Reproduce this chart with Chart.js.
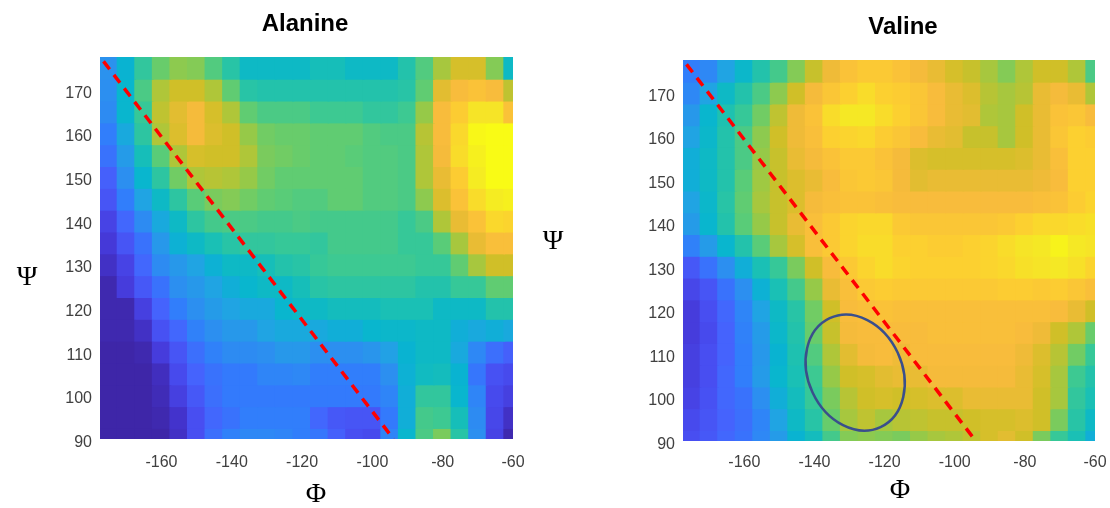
<!DOCTYPE html>
<html>
<head>
<meta charset="utf-8">
<script src="https://cdn.jsdelivr.net/npm/chart.js@4.4.1/dist/chart.umd.min.js"></script>
<style>
  html, body { margin: 0; padding: 0; background: #fff; overflow: hidden; }
  #wrap { position: relative; width: 1110px; height: 508px; }
  canvas { position: absolute; top: 0; }
  #left { left: 0; }
  #right { left: 540px; }
</style>
</head>
<body>
<div id="wrap">
  <canvas id="left" width="540" height="508"></canvas>
  <canvas id="right" width="582" height="508"></canvas>
</div>
<script>
// cell centres (degrees)
const phi = [-175, -170, -165, -160, -155, -150, -145, -140, -135, -130, -125, -120,
             -115, -110, -105, -100, -95, -90, -85, -80, -75, -70, -65, -60];
const psi = [175, 170, 165, 160, 155, 150, 145, 140, 135, 130, 125, 120, 115, 110, 105, 100, 95, 90];

// relative population, 0..100, one row per psi (top to bottom)
const alanine = [
  [32,44,56,64,68,67,61,54,47,47,47,47,50,50,47,47,47,53,61,71,77,77,67,47],
  [31,45,60,72,76,76,72,63,54,53,53,53,53,53,53,53,53,54,63,79,83,85,83,74],
  [30,45,57,74,79,82,77,72,63,60,60,60,58,58,58,56,56,58,69,83,88,94,94,85],
  [26,40,55,72,78,82,78,76,69,65,64,64,63,63,63,61,60,60,73,83,91,99,100,100],
  [23,35,50,62,72,77,76,76,72,66,65,64,63,63,62,61,61,60,72,82,92,97,100,100],
  [18,31,45,55,65,72,73,72,69,65,63,63,63,63,63,61,61,60,72,80,88,96,100,100],
  [15,26,38,47,55,62,66,67,65,63,62,61,61,63,63,61,61,60,68,78,85,92,96,97],
  [10,20,30,40,47,55,59,60,60,59,59,60,59,59,59,59,59,57,60,72,80,85,91,90],
  [7,15,23,34,43,47,51,54,56,56,57,57,56,59,59,59,59,57,57,62,71,80,84,84],
  [4,10,20,30,34,38,43,47,47,50,53,54,57,58,58,58,58,58,57,57,63,71,76,76],
  [1,8,16,23,31,34,38,42,45,47,47,50,54,55,55,55,55,55,53,53,57,57,63,63],
  [1,1,9,19,26,31,35,38,40,40,45,47,47,49,49,49,51,51,51,47,47,47,53,53],
  [1,1,4,14,20,27,31,34,34,38,40,40,40,42,42,45,46,46,47,47,42,40,42,40],
  [0,0,1,8,15,22,27,30,30,31,34,34,31,31,31,33,37,44,47,47,40,29,22,18],
  [0,0,0,3,12,19,23,25,25,28,28,29,26,26,26,26,31,43,48,49,44,24,14,12],
  [0,0,0,2,9,16,22,25,25,25,25,25,25,25,25,25,28,42,56,56,45,28,12,9],
  [0,0,0,1,5,13,20,23,26,26,26,26,20,16,15,15,25,42,59,58,50,30,11,4],
  [0,0,0,0,4,13,22,27,29,29,28,26,24,18,13,12,28,45,60,66,54,31,10,1]
];

const valine = [
  [26,29,38,46,53,59,67,75,81,85,87,87,85,82,80,77,75,71,67,72,76,76,72,60],
  [29,38,47,53,60,68,76,82,86,89,92,89,88,86,83,80,78,73,71,73,80,82,80,72],
  [34,45,52,57,65,74,81,85,92,95,95,92,89,86,83,80,79,72,71,76,80,85,86,83],
  [38,46,53,60,68,76,81,84,89,90,91,88,86,83,80,79,75,75,71,76,80,86,89,88],
  [42,47,53,60,69,75,80,82,85,87,87,85,82,78,77,77,77,77,77,78,80,84,89,89],
  [42,47,53,62,70,75,78,80,83,86,87,86,82,79,80,80,80,80,80,80,81,83,89,89],
  [38,46,54,63,71,75,78,82,84,85,85,84,83,83,83,83,83,83,83,83,84,85,88,90],
  [35,45,53,62,69,75,80,84,87,90,91,91,87,86,86,86,86,86,87,89,91,91,92,93],
  [27,35,45,53,62,71,77,84,87,90,92,92,89,89,88,88,89,90,92,94,95,98,95,94],
  [16,23,31,42,51,57,66,76,83,87,90,92,90,89,89,89,89,90,91,93,94,95,93,90],
  [11,15,23,31,43,51,59,69,80,84,87,88,87,87,87,87,87,87,88,88,87,88,86,84],
  [8,13,20,28,38,47,54,65,76,83,84,85,84,84,84,84,84,84,84,84,84,83,80,76],
  [8,12,19,27,35,46,53,64,75,82,83,83,83,83,84,84,84,84,84,83,81,76,72,64],
  [9,13,19,26,34,44,52,61,72,79,82,83,81,83,83,83,83,83,83,81,78,73,65,57],
  [9,13,20,26,35,45,51,58,69,76,77,79,80,80,82,82,82,82,82,80,77,71,58,53],
  [10,14,20,23,31,42,49,57,66,73,76,77,76,77,78,78,80,80,80,80,76,71,56,51],
  [12,15,19,22,28,38,47,54,64,71,74,71,73,74,75,75,76,77,77,78,76,66,54,47],
  [13,16,20,23,29,35,44,49,59,67,68,67,66,69,71,72,74,77,79,76,66,57,51,42]
];

const phiTicks = [-160, -140, -120, -100, -80, -60];
const psiTicks = [90, 100, 110, 120, 130, 140, 150, 160, 170];

// dashed diagonal, both panels
const diagPhi = [-176.5, -94];
const diagPsi = [176.5, 90];

// ring on the valine panel
const ringCenter = [-128.4, 105.7];
const ringRadii = [13.4, 13.8];
const ringTilt = -25;

// parula, every 4th entry of the 64-colour table
const parulaStops = [
  [0.2422, 0.1504, 0.6603], [0.2706, 0.2147, 0.8364], [0.2813, 0.3006, 0.9414],
  [0.2699, 0.3892, 0.9906], [0.1963, 0.4847, 0.9892], [0.1687, 0.5703, 0.9359],
  [0.1248, 0.6459, 0.8883], [0.0297, 0.7082, 0.8163], [0.0964, 0.7500, 0.7120],
  [0.2161, 0.7843, 0.5923], [0.3909, 0.8029, 0.4354], [0.6174, 0.7876, 0.2612],
  [0.8203, 0.7498, 0.1535], [0.9728, 0.7298, 0.2394], [0.9892, 0.8136, 0.1885],
  [0.9597, 0.9135, 0.1423], [0.9769, 0.9839, 0.0805]
];
const stopPos = [0, 4, 8, 12, 16, 20, 24, 28, 32, 36, 40, 44, 48, 52, 56, 60, 63];

function parula(v) {
  const x = Math.min(Math.max(v / 100, 0), 1) * 63;
  let k = 0;
  while (k < stopPos.length - 2 && x > stopPos[k + 1]) k++;
  const f = (x - stopPos[k]) / (stopPos[k + 1] - stopPos[k]);
  const a = parulaStops[k], b = parulaStops[k + 1];
  const c = a.map((ai, i) => Math.round(255 * (ai + (b[i] - ai) * f)));
  return `rgb(${c[0]},${c[1]},${c[2]})`;
}

const sideText = {
  id: 'sideText',
  afterDraw(chart, args, opts) {
    const ctx = chart.ctx;
    ctx.save();
    ctx.textAlign = 'center';
    ctx.textBaseline = 'middle';
    ctx.fillStyle = '#000';
    for (const t of opts.items || []) {
      ctx.font = t.font;
      ctx.fillText(t.text, t.x, t.y);
    }
    ctx.restore();
  }
};

const ring = {
  id: 'ring',
  afterDatasetsDraw(chart, args, opts) {
    if (!opts.center) return;
    const xs = chart.scales.x, ys = chart.scales.y;
    const cx = xs.getPixelForValue(opts.center[0]);
    const cy = ys.getPixelForValue(opts.center[1]);
    const rx = Math.abs(xs.getPixelForValue(opts.center[0] + opts.radii[0]) - cx);
    const ry = Math.abs(ys.getPixelForValue(opts.center[1] + opts.radii[1]) - cy);
    const ctx = chart.ctx;
    ctx.save();
    ctx.beginPath();
    ctx.ellipse(cx, cy, rx, ry, opts.tilt * Math.PI / 180, 0, 2 * Math.PI);
    ctx.strokeStyle = '#3a4f8c';
    ctx.lineWidth = 2.5;
    ctx.stroke();
    ctx.restore();
  }
};

const tickFont = {family: "'Liberation Sans', Arial, sans-serif", size: 16};
const serif = "28px 'Liberation Serif', 'DejaVu Serif', serif";
const bold = "bold 24px 'Liberation Sans', Arial, sans-serif";

function cellDatasets(grid) {
  return grid.map((row, r) => ({
    type: 'bar',
    data: row.map((v, c) => ({x: phi[c], y: [psi[r] - 2.7, psi[r] + 2.7]})),
    backgroundColor: row.map(parula),
    grouped: false,
    barPercentage: 1.1,
    categoryPercentage: 1,
    borderWidth: 0,
    clip: 0,
    order: 2
  }));
}

function drawPanel(id, grid, layout) {
  const datasets = cellDatasets(grid);
  datasets.push({
    type: 'line',
    data: diagPhi.map((x, i) => ({x, y: diagPsi[i]})),
    borderColor: '#ff0000',
    borderWidth: 3.5,
    borderDash: [10, 7],
    pointRadius: 0,
    fill: false,
    clip: 0,
    order: 0
  });

  return new Chart(document.getElementById(id), {
    type: 'bar',
    data: {datasets},
    plugins: [sideText, ring],
    options: {
      responsive: false,
      animation: false,
      devicePixelRatio: 1,
      events: [],
      layout: {padding: {left: 0, right: layout.right, top: layout.top, bottom: 0}},
      plugins: {
        legend: {display: false},
        tooltip: {enabled: false},
        sideText: {items: layout.texts},
        ring: layout.ring || {}
      },
      scales: {
        x: {
          type: 'linear', min: -177.5, max: -60, offset: false,
          grid: {display: false, drawTicks: false},
          border: {display: false},
          ticks: {color: '#404040', font: tickFont, padding: layout.xPad, maxRotation: 0, autoSkip: false,
                  callback: v => String(v)},
          afterBuildTicks: s => { s.ticks = phiTicks.map(v => ({value: v})); },
          afterFit: s => { s.height = layout.xAxisH; }
        },
        y: {
          type: 'linear', min: 90, max: 177.5,
          grid: {display: false, drawTicks: false},
          border: {display: false},
          ticks: {color: '#404040', font: tickFont, padding: 8, labelOffset: 3.5, autoSkip: false,
                  callback: v => String(v)},
          afterBuildTicks: s => { s.ticks = psiTicks.map(v => ({value: v})); },
          afterFit: s => { s.width = layout.yAxisW; }
        }
      }
    }
  });
}

drawPanel('left', alanine, {
  right: 27, top: 57, xAxisH: 69, yAxisW: 100, xPad: 14,
  texts: [
    {text: 'Alanine', x: 305, y: 24, font: bold},
    {text: 'Ψ', x: 27, y: 278, font: serif},
    {text: 'Φ', x: 316, y: 495, font: serif}
  ]
});

drawPanel('right', valine, {
  right: 27, top: 60, xAxisH: 67, yAxisW: 143, xPad: 12,
  texts: [
    {text: 'Valine', x: 363, y: 27, font: bold},
    {text: 'Ψ', x: 13, y: 242, font: serif},
    {text: 'Φ', x: 360, y: 491, font: serif}
  ],
  ring: {center: ringCenter, radii: ringRadii, tilt: ringTilt}
});
</script>
</body>
</html>
